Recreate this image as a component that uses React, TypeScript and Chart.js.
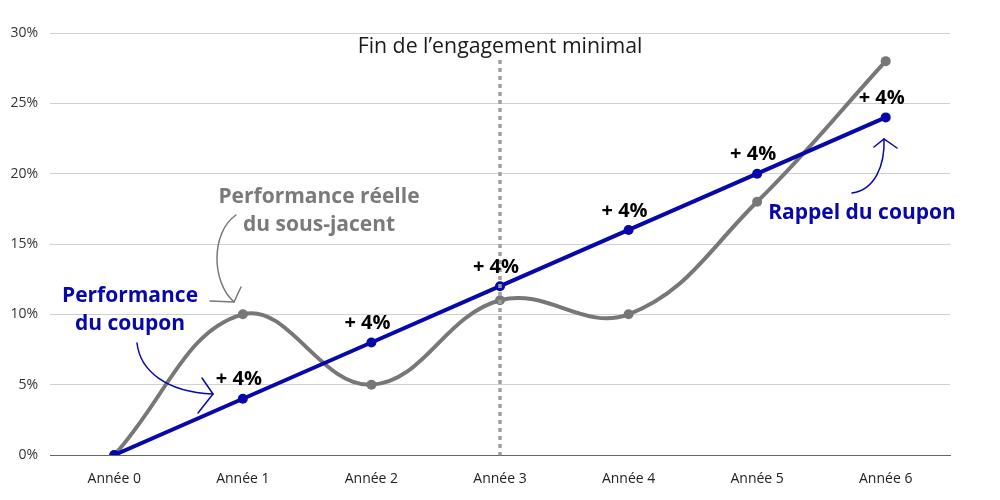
import React, { useEffect, useRef } from 'react';
import { Chart, registerables } from 'chart.js';

Chart.register(...registerables);

const categories = ['Année 0', 'Année 1', 'Année 2', 'Année 3', 'Année 4', 'Année 5', 'Année 6'];
const sousJacent = [0, 10, 5, 11, 10, 18, 28];
const coupon = [0, 4, 8, 12, 16, 20, 24];
const couponLabels = ['', '+ 4%', '+ 4%', '+ 4%', '+ 4%', '+ 4%', '+ 4%'];
const yMin = 0;
const yMax = 30;
const yStep = 5;
const engagementIndex = 3;
const engagementLabel = 'Fin de l’engagement minimal';
const labelSousJacent = ['Performance réelle', 'du sous-jacent'];
const labelCoupon = ['Performance', 'du coupon'];
const labelRappel = 'Rappel du coupon';

const BLUE = '#0707aa';
const GREY = '#777777';
const FONT = '"Open Sans", "Noto Sans", sans-serif';

type P = [number, number];

function drawArrow(ctx: CanvasRenderingContext2D, s: P, c1: P, c2: P, e: P, a1: P, a2: P, color: string) {
  ctx.save();
  ctx.strokeStyle = color;
  ctx.lineWidth = 1.5;
  ctx.lineCap = 'round';
  ctx.beginPath();
  ctx.moveTo(s[0], s[1]);
  ctx.bezierCurveTo(c1[0], c1[1], c2[0], c2[1], e[0], e[1]);
  ctx.stroke();
  ctx.beginPath();
  ctx.moveTo(a1[0], a1[1]);
  ctx.lineTo(e[0], e[1]);
  ctx.lineTo(a2[0], a2[1]);
  ctx.stroke();
  ctx.restore();
}

const annotationPlugin = {
  id: 'annotations',
  afterDatasetsDraw(chart: any) {
    const ctx: CanvasRenderingContext2D = chart.ctx;
    const xs = chart.scales.x;
    const ys = chart.scales.y;
    const area = chart.chartArea;

    // vertical dotted line
    const vx = xs.getPixelForValue(engagementIndex);
    ctx.save();
    ctx.strokeStyle = '#a0a0a0';
    ctx.lineWidth = 3.5;
    ctx.setLineDash([4, 4]);
    ctx.beginPath();
    ctx.moveTo(vx, 60);
    ctx.lineTo(vx, area.bottom);
    ctx.stroke();
    ctx.restore();

    ctx.save();
    ctx.textAlign = 'center';
    ctx.textBaseline = 'middle';
    ctx.fillStyle = '#1a1a1a';
    ctx.font = `400 21.3px ${FONT}`;
    ctx.fillText(engagementLabel, vx, 47);

    // + 4% labels
    ctx.fillStyle = '#000000';
    ctx.font = `700 20px ${FONT}`;
    couponLabels.forEach((lab, i) => {
      if (!lab) return;
      const px = xs.getPixelForValue(i);
      const py = ys.getPixelForValue(coupon[i]);
      ctx.fillText(lab, px - 4, py - 19);
    });

    // series annotations
    ctx.font = `700 21px ${FONT}`;
    ctx.fillStyle = '#7a7a7a';
    ctx.fillText(labelSousJacent[0], 319, 197);
    ctx.fillText(labelSousJacent[1], 319, 225);
    ctx.fillStyle = BLUE;
    ctx.fillText(labelCoupon[0], 130, 296);
    ctx.fillText(labelCoupon[1], 130, 324);
    ctx.fillText(labelRappel, 862, 213);
    ctx.restore();

    drawArrow(ctx, [236, 215], [211, 232], [211, 282], [234, 302], [210, 301], [241, 287], GREY);
    drawArrow(ctx, [137, 343], [140, 370], [165, 392], [213, 394], [202, 378], [198, 413], BLUE);
    drawArrow(ctx, [852, 193], [875, 190], [885, 165], [884, 139], [874, 147], [897, 148], BLUE);
  },
};

export default function App() {
  const ref = useRef<HTMLCanvasElement | null>(null);

  useEffect(() => {
    document.body.style.margin = '0';
    if (!ref.current) return;
    const chart = new Chart(ref.current, {
      type: 'line',
      data: {
        labels: categories,
        datasets: [
          {
            label: 'Performance du coupon',
            data: coupon,
            borderColor: BLUE,
            backgroundColor: BLUE,
            borderWidth: 4,
            pointRadius: 5,
            pointBorderWidth: 0,
            tension: 0,
          },
          {
            label: 'Performance réelle du sous-jacent',
            data: sousJacent,
            borderColor: GREY,
            backgroundColor: GREY,
            borderWidth: 4,
            pointRadius: 5,
            pointBorderWidth: 0,
            tension: 0.4,
          },
        ],
      },
      options: {
        responsive: false,
        maintainAspectRatio: false,
        animation: false,
        layout: { padding: { left: 0, right: 50, top: 33, bottom: 0 } },
        plugins: {
          legend: { display: false },
          tooltip: { enabled: false },
        },
        scales: {
          x: {
            offset: true,
            grid: { display: false },
            border: { display: true, color: '#666666', width: 1 },
            ticks: { color: '#222222', font: { family: FONT, size: 14 }, padding: 8 },
            afterFit: (s: any) => { s.height = 45; },
          },
          y: {
            min: yMin,
            max: yMax,
            grid: { color: '#d0d0d0', lineWidth: 1, drawTicks: false },
            border: { display: false },
            ticks: {
              stepSize: yStep,
              color: '#333333',
              font: { family: FONT, size: 14 },
              padding: 12,
              callback: (v: any) => `${v}%`,
            },
            afterFit: (s: any) => { s.width = 50; },
          },
        },
      },
      plugins: [annotationPlugin],
    });
    return () => chart.destroy();
  }, []);

  return (
    <div style={{ width: 1000, height: 500 }}>
      <canvas ref={ref} width={1000} height={500} />
    </div>
  );
}
